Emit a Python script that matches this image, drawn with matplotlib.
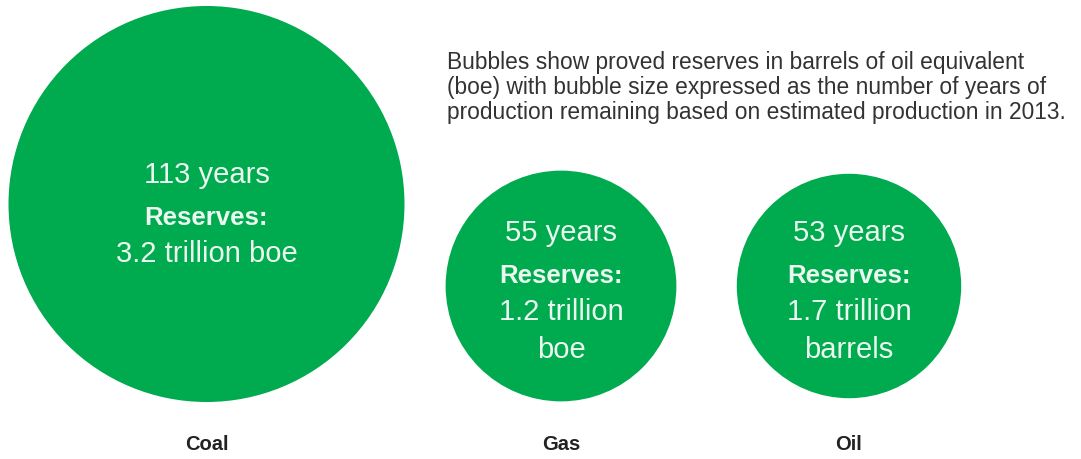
import matplotlib.pyplot as plt
from matplotlib.patches import Circle

# Данные
fuels = ['Coal', 'Gas', 'Oil']
years = [113, 55, 53]
reserves = ['3.2 trillion boe', '1.2 trillion\nboe', '1.7 trillion\nbarrels']
note = ('Bubbles show proved reserves in barrels of oil equivalent\n'
        '(boe) with bubble size expressed as the number of years of\n'
        'production remaining based on estimated production in 2013.')

green = '#00AA4F'
text_light = '#EAF8EF'

fig = plt.figure(figsize=(10.81, 4.59), dpi=100)
ax = fig.add_axes([0, 0, 1, 1])
ax.set_xlim(0, 1081)
ax.set_ylim(459, 0)
ax.set_aspect('equal')
ax.axis('off')

# размещение пузырей (пиксели)
cx = [206.5, 561, 849]
cy = [204, 286, 286]
r_max = 198
rad = [r_max * (y / max(years)) ** 0.75 for y in years]
first_line = [175, 233, 233]

for i, f in enumerate(fuels):
    ax.add_patch(Circle((cx[i], cy[i]), rad[i], color=green, lw=0))
    y0 = first_line[i]
    ax.text(cx[i], y0, f'{years[i]} years', color=text_light, fontsize=21,
            family='Liberation Sans', ha='center', va='center')
    ax.text(cx[i], y0 + 43, 'Reserves:', color=text_light, fontsize=18.5,
            family='Liberation Sans', weight='bold', ha='center', va='center')
    lines = reserves[i].split('\n')
    for j, ln in enumerate(lines):
        ax.text(cx[i], y0 + 79 + j * 38, ln, color=text_light, fontsize=21,
                family='Liberation Sans', ha='center', va='center')
    ax.text(cx[i], 444, f, color='#222222', fontsize=14.5, weight='bold',
            family='Liberation Sans', ha='center', va='center')

ax.text(447, 51, note, color='#333333', fontsize=16.4, family='Liberation Sans',
        ha='left', va='top', linespacing=1.12)

fig.savefig('out.png', dpi=100)
